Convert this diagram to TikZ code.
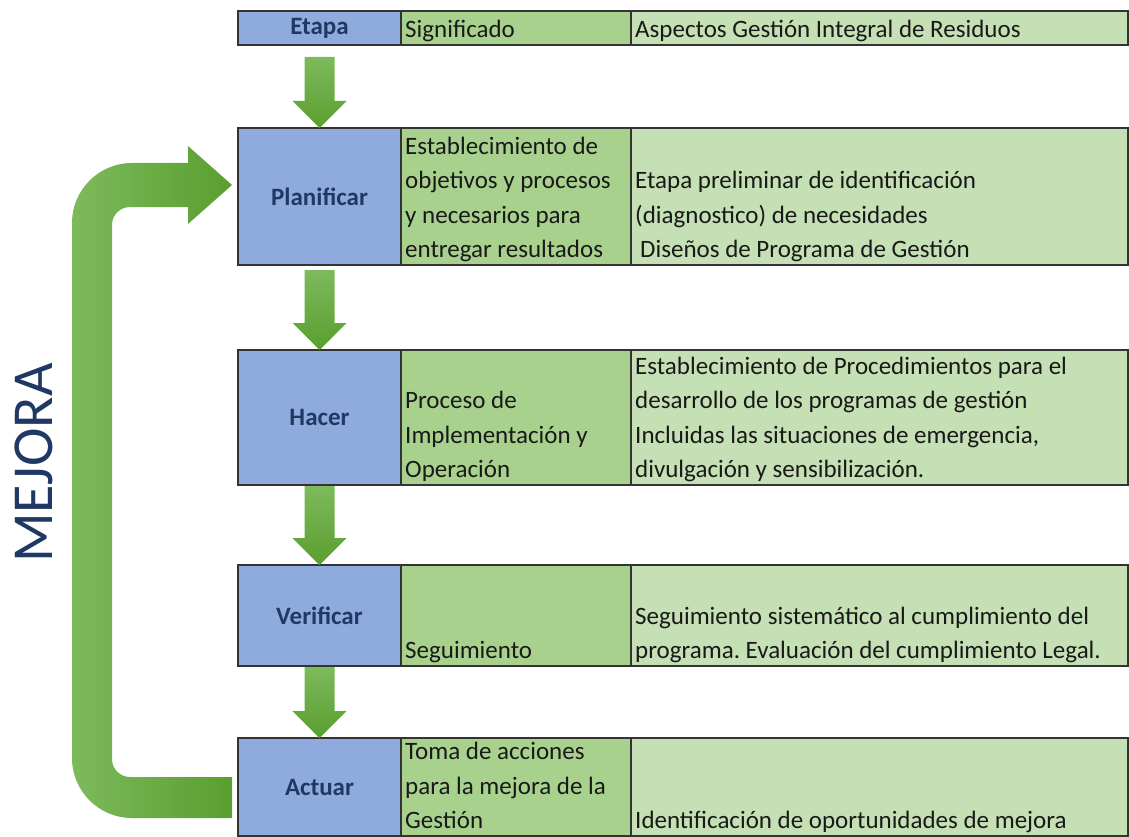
\documentclass[tikz,border=0pt]{standalone}
\usepackage{fontspec}
\setmainfont{Carlito}
\frenchspacing
\usetikzlibrary{positioning,calc}

\definecolor{azulcelda}{HTML}{8FAADC}
\definecolor{verdecelda}{HTML}{A9D18E}
\definecolor{verdeclaro}{HTML}{C5E0B4}
\definecolor{tinta}{HTML}{203864}
\definecolor{flechaA}{HTML}{7DBA5C}
\definecolor{flechaB}{HTML}{5A9E2F}

\tikzset{
  celda/.style={draw=black!80, line width=1.6pt, outer sep=0pt, inner sep=0pt, minimum height=#1},
  etapa/.style={celda=#1, fill=azulcelda, minimum width=163pt, font=\fontsize{25}{30}\selectfont\bfseries, text=tinta},
  signif/.style={celda=#1, fill=verdecelda, minimum width=230pt},
  aspecto/.style={celda=#1, fill=verdeclaro, minimum width=497pt},
  texto/.style={anchor=south west, align=left, inner xsep=4pt, inner ysep=0pt, text depth=7pt, font=\fontsize{25}{34.5}\selectfont, text=black!90},
}

% block arrow between two stages
\newcommand\bajada[3]{%
  \shade[top color=flechaA, bottom color=flechaB]
    let \p1=(#1.south), \p2=(#2.north) in
    (\x1-15pt,\y1-#3) -- (\x1+15pt,\y1-#3) -- (\x1+15pt,\y2+27pt) -- (\x1+27pt,\y2+27pt)
    -- (\x2,\y2) -- (\x1-27pt,\y2+27pt) -- (\x1-15pt,\y2+27pt) -- cycle;}

\begin{document}
\begin{tikzpicture}[x=1pt, y=-1pt]
  \useasboundingbox (0,0) rectangle (1129,837);

  % header
  \node[etapa=34pt, anchor=north west] (etapa) at (238,11) {Etapa} ; %
  \node[signif=34pt, right=0pt of etapa] (signif) {} ; %
  \node[aspecto=34pt, right=0pt of signif] (aspectos) {} ; %
  \node[texto] (t-signif) at (signif.south west) {Significado} ; %
  \node[texto] (t-aspectos) at (aspectos.south west) {Aspectos Gestión Integral de Residuos} ; %

  % planificar
  \node[etapa=137pt, anchor=north west] (planificar) at (238,128) {Planificar} ; %
  \node[signif=137pt, right=0pt of planificar] (sig-plan) {} ; %
  \node[aspecto=137pt, right=0pt of sig-plan] (asp-plan) {} ; %
  \node[texto] (t-sig-plan) at (sig-plan.south west) {Establecimiento de\\objetivos y procesos\\y necesarios para\\entregar resultados} ; %
  \node[texto] (t-asp-plan) at (asp-plan.south west) {Etapa preliminar de identificación\\(diagnostico) de necesidades\\\hspace*{5pt}Diseños de Programa de Gestión} ; %

  % hacer
  \node[etapa=135pt, anchor=north west] (hacer) at (238,350) {Hacer} ; %
  \node[signif=135pt, right=0pt of hacer] (sig-hacer) {} ; %
  \node[aspecto=135pt, right=0pt of sig-hacer] (asp-hacer) {} ; %
  \node[texto] (t-sig-hacer) at (sig-hacer.south west) {Proceso de\\Implementación y\\Operación} ; %
  \node[texto] (t-asp-hacer) at (asp-hacer.south west) {Establecimiento de Procedimientos para el\\desarrollo de los programas de gestión\\Incluidas las situaciones de emergencia,\\divulgación y sensibilización.} ; %

  % verificar
  \node[etapa=101pt, anchor=north west] (verificar) at (238,565) {Verificar} ; %
  \node[signif=101pt, right=0pt of verificar] (sig-verif) {} ; %
  \node[aspecto=101pt, right=0pt of sig-verif] (asp-verif) {} ; %
  \node[texto] (t-sig-verif) at (sig-verif.south west) {Seguimiento} ; %
  \node[texto] (t-asp-verif) at (asp-verif.south west) {Seguimiento sistemático al cumplimiento del\\programa. Evaluación del cumplimiento Legal.} ; %

  % actuar
  \node[etapa=98pt, anchor=north west] (actuar) at (238,738) {Actuar} ; %
  \node[signif=98pt, right=0pt of actuar] (sig-actuar) {} ; %
  \node[aspecto=98pt, right=0pt of sig-actuar] (asp-actuar) {} ; %
  \node[texto] (t-sig-actuar) at (sig-actuar.south west) {Toma de acciones\\para la mejora de la\\Gestión} ; %
  \node[texto] (t-asp-actuar) at (asp-actuar.south west) {Identificación de oportunidades de mejora} ; %

  \bajada{etapa}{planificar}{12pt}
  \bajada{planificar}{hacer}{5pt}
  \bajada{hacer}{verificar}{1pt}
  \bajada{verificar}{actuar}{1pt}

  % mejora loop
  \shade[left color=flechaA, right color=flechaB]
    let \p1=(actuar.west), \p2=(planificar.west) in
    (\x1-6pt,\y1-31pt) -- (\x1-106pt,\y1-31pt)
    arc[start angle=270, end angle=180, radius=60pt]
    -- (\x1-166pt,\y2-26.5pt)
    arc[start angle=180, end angle=90, radius=60pt]
    -- (\x2-50pt,\y2+33.5pt) -- (\x2-50pt,\y2+50.5pt) -- (\x2-6pt,\y2+11.5pt)
    -- (\x2-50pt,\y2-27.5pt) -- (\x2-50pt,\y2-10.5pt) -- (\x1-108pt,\y2-10.5pt)
    arc[start angle=90, end angle=180, radius=18pt]
    -- (\x1-126pt,\y1+28pt)
    arc[start angle=180, end angle=270, radius=18pt]
    -- (\x1-6pt,\y1+10pt) -- cycle;
  \node[rotate=90, inner sep=0pt, font=\fontsize{58}{58}\selectfont, text=tinta] (mejora) at (34,463) {MEJORA} ; %
\end{tikzpicture}
\end{document}
